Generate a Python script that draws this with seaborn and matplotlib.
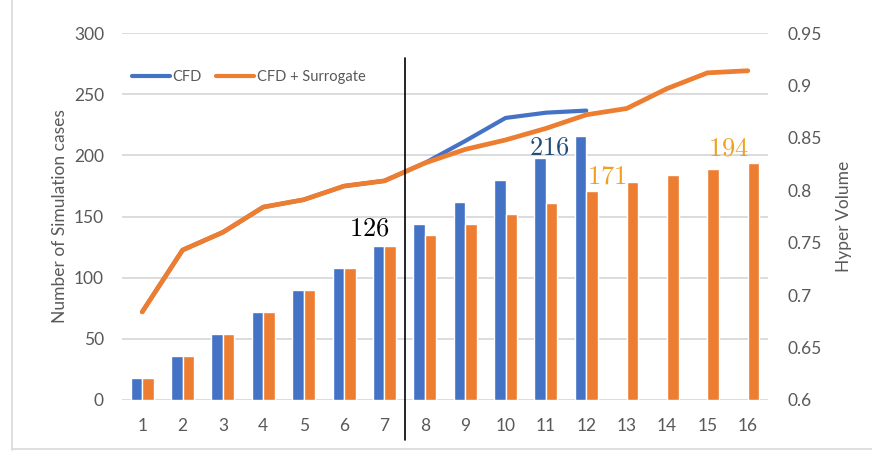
import numpy as np
import pandas as pd
import matplotlib
matplotlib.use("Agg")
import matplotlib.pyplot as plt
import matplotlib.transforms as mtransforms
from matplotlib.lines import Line2D
import seaborn as sns

# Iterations and the number of simulation cases per iteration
iterations = list(range(1, 17))
cases_cfd = [18, 36, 54, 72, 90, 108, 126, 144, 162, 180, 198, 216]
cases_surrogate = [18, 36, 54, 72, 90, 108, 126, 135, 144, 152, 161, 171, 178, 184, 189, 194]

# Hyper volume reached after each iteration
hv_cfd = [0.684, 0.743, 0.760, 0.784, 0.791, 0.804, 0.809, 0.826, 0.847, 0.869, 0.874, 0.876]
hv_surrogate = [0.684, 0.743, 0.760, 0.784, 0.791, 0.804, 0.809, 0.826, 0.839, 0.848,
                0.859, 0.872, 0.878, 0.897, 0.912, 0.914]

series_names = ["CFD", "CFD + Surrogate"]
colors = {"CFD": "#4472C4", "CFD + Surrogate": "#ED7D31"}

sns.set_theme(style="white")
plt.rcParams["font.family"] = ["Lato", "DejaVu Sans"]
plt.rcParams["mathtext.fontset"] = "cm"

tick_color = "#595959"
grid_color = "#D9D9D9"

bars = pd.DataFrame({
    "iteration": [str(i) for i in iterations[:len(cases_cfd)]] + [str(i) for i in iterations],
    "cases": cases_cfd + cases_surrogate,
    "series": ["CFD"] * len(cases_cfd) + ["CFD + Surrogate"] * len(cases_surrogate),
})

fig = plt.figure(figsize=(8.72, 4.51), dpi=100)
ax = fig.add_axes([122 / 872, 1 - 400 / 451, (768 - 122) / 872, (400 - 33) / 451])

sns.barplot(data=bars, x="iteration", y="cases", hue="series",
            order=[str(i) for i in iterations], hue_order=series_names,
            palette=colors, width=0.57, saturation=1, ax=ax, legend=False)

ax.set_ylim(0, 300)
ax.set_yticks(range(0, 301, 50))
ax.set_xlim(-0.5, len(iterations) - 0.5)
ax.yaxis.grid(True, color=grid_color, linewidth=1.3)
ax.set_axisbelow(True)
for s in ax.spines.values():
    s.set_visible(False)
ax.tick_params(axis="both", length=0, labelsize=12.5, colors=tick_color, pad=13)
ax.tick_params(axis="y", pad=13)
ax.set_xlabel("")
ax.set_ylabel("Number of Simulation cases", fontsize=12.5, color=tick_color, labelpad=4)

# Hyper volume lines on the secondary axis
ax2 = ax.twinx()
lines = pd.DataFrame({
    "pos": list(range(len(hv_cfd))) + list(range(len(hv_surrogate))),
    "hv": hv_cfd + hv_surrogate,
    "series": ["CFD"] * len(hv_cfd) + ["CFD + Surrogate"] * len(hv_surrogate),
})
sns.lineplot(data=lines[lines.series == "CFD"], x="pos", y="hv", color=colors["CFD"],
             linewidth=3.0, ax=ax2)
sns.lineplot(data=lines[lines.series == "CFD + Surrogate"], x="pos", y="hv",
             color=colors["CFD + Surrogate"], linewidth=3.4, ax=ax2)
ax2.set_ylim(0.6, 0.95)
ax2.set_yticks([0.6, 0.65, 0.7, 0.75, 0.8, 0.85, 0.9, 0.95])
ax2.set_yticklabels(["0.6", "0.65", "0.7", "0.75", "0.8", "0.85", "0.9", "0.95"])
ax2.set_xlim(-0.5, len(iterations) - 0.5)
for s in ax2.spines.values():
    s.set_visible(False)
ax2.tick_params(axis="y", length=0, labelsize=12.5, colors=tick_color, pad=14)
ax2.set_xlabel("")
ax2.set_ylabel("Hyper Volume", fontsize=12.5, color=tick_color, labelpad=10)

# Separator between the CFD-only phase and the surrogate-assisted phase
trans = mtransforms.blended_transform_factory(ax2.transData, ax2.transAxes)
ax2.plot([6.5, 6.5], [-0.109, 0.932], color="black", linewidth=1.2,
         transform=trans, clip_on=False)

# Value labels
ax.text(5.63, 140.5, r"$126$", fontsize=19, color="black", ha="center", va="center")
ax.text(10.09, 207, r"$216$", fontsize=19, color="#1F4E79", ha="center", va="center")
ax.text(11.5, 183, r"$171$", fontsize=19, color="#F0A020", ha="center", va="center")
ax.text(14.53, 206, r"$194$", fontsize=19, color="#F0A020", ha="center", va="center")

handles = [Line2D([0], [0], color=colors[n], linewidth=3) for n in series_names]
ax2.legend(handles, series_names, loc="upper left", bbox_to_anchor=(-0.005, 0.935),
           ncol=2, frameon=False, fontsize=10.5, handlelength=2.6, handletextpad=0.2,
           columnspacing=0.95, labelcolor=tick_color)

# Light chart-area frame
fig.add_artist(Line2D([12 / 872, 12 / 872], [1 / 451, 1.0], color=grid_color,
                      linewidth=1.2, transform=fig.transFigure))
fig.add_artist(Line2D([12 / 872, 1.0], [2 / 451, 2 / 451], color=grid_color,
                      linewidth=1.2, transform=fig.transFigure))

fig.savefig("out.png", dpi=100, facecolor="white")
